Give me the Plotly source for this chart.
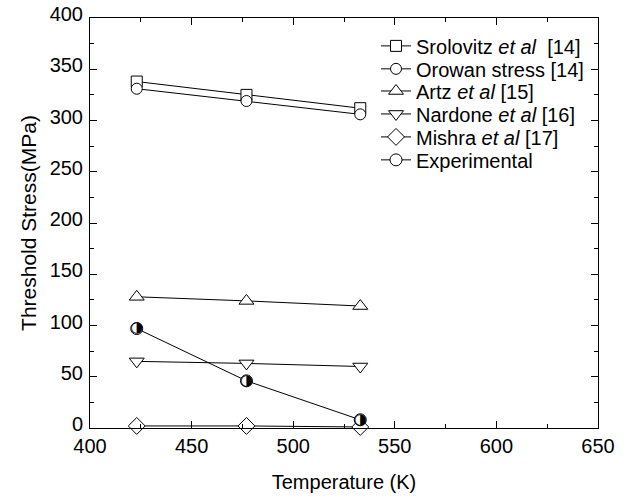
import plotly.graph_objects as go

temps = [423, 477, 533]
srolovitz = [338, 325, 312]
orowan = [331, 319, 306]
artz = [128, 124, 119]
nardone = [65, 63, 60]
mishra = [2, 2, 1]
experimental = [97, 46, 8]

series = [
    ("Srolovitz <i>et al</i>  [14]", srolovitz, "square"),
    ("Orowan stress [14]", orowan, "circle"),
    ("Artz <i>et al</i> [15]", artz, "triangle-up"),
    ("Nardone <i>et al</i> [16]", nardone, "triangle-down"),
    ("Mishra <i>et al</i> [17]", mishra, "diamond"),
]

FONT = "Liberation Sans, Arial, Helvetica"
legend_names = ["legend", "legend2", "legend3", "legend4", "legend5", "legend6"]
legend_y = [0.932, 0.876, 0.822, 0.766, 0.710, 0.654]

fig = go.Figure()
for i, (name, vals, sym) in enumerate(series):
    size = 11 if sym in ("square", "circle") else 13
    fig.add_trace(go.Scatter(
        x=temps, y=vals, name=name, mode="lines+markers",
        line=dict(color="black", width=1),
        marker=dict(symbol=sym, size=size, color="white",
                    line=dict(color="black", width=1)),
        cliponaxis=False, legend=legend_names[i],
    ))

fig.add_trace(go.Scatter(
    x=temps, y=experimental, name="Experimental", mode="lines+markers",
    line=dict(color="black", width=1),
    marker=dict(symbol="circle", size=12, color="white",
                line=dict(color="black", width=1)),
    cliponaxis=False, legend=legend_names[5],
))
fig.add_trace(go.Scatter(
    x=temps, y=experimental, mode="text", text=["◑"] * len(temps),
    textfont=dict(family="DejaVu Sans", size=15, color="black"),
    textposition="middle center", showlegend=False, cliponaxis=False,
    hoverinfo="skip",
))

axis_common = dict(
    showgrid=False, zeroline=False, showline=True, linecolor="black",
    linewidth=1, mirror="ticks", ticks="inside", ticklen=7, tickcolor="black",
    tickfont=dict(family=FONT, size=20, color="black"), automargin=False,
)
fig.update_xaxes(
    range=[400, 650], dtick=50, tick0=400,
    minor=dict(dtick=25, ticks="inside", ticklen=4, tickcolor="black"),
    title=dict(text="Temperature (K)", font=dict(family=FONT, size=20, color="black"), standoff=18),
    **axis_common,
)
fig.update_yaxes(
    range=[0, 400], dtick=50, tick0=0,
    minor=dict(dtick=25, ticks="inside", ticklen=4, tickcolor="black"),
    title=dict(text="Threshold Stress(MPa)", font=dict(family=FONT, size=21, color="black"), standoff=7),
    ticklabelstandoff=2, ticklabelshift=-4,
    **axis_common,
)

legend_layout = {}
for ln, ly in zip(legend_names, legend_y):
    legend_layout[ln] = dict(
        x=0.563, y=ly, xanchor="left", yanchor="middle",
        bgcolor="rgba(0,0,0,0)", font=dict(family=FONT, size=20, color="black"),
        itemwidth=30, borderwidth=0,
    )

fig.update_layout(
    width=629, height=498,
    margin=dict(l=90, r=31, t=18, b=70),
    plot_bgcolor="white", paper_bgcolor="white",
    font=dict(family=FONT, color="black"),
    showlegend=True,
    **legend_layout,
)
# remove the browser's default 8px body margin so the figure fills the window
fig.write_html("out.html", config={"displayModeBar": False},
               post_script="document.body.style.margin='0';")
